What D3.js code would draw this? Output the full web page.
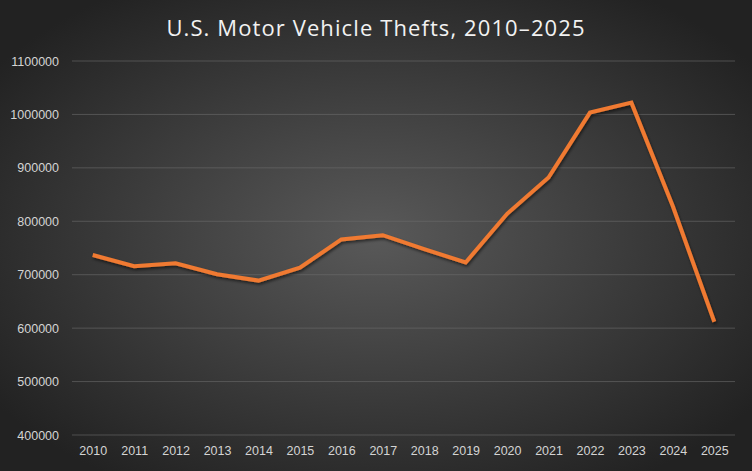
<!DOCTYPE html>
<html lang="en">
<head>
    <meta charset="UTF-8">
    <title>U.S. Motor Vehicle Thefts</title>
    <script src="https://cdn.jsdelivr.net/npm/d3@7"></script>
    <style>
        html, body { margin: 0; padding: 0; background: #2a2a2a; }
        svg { display: block; }
        .tick text { font-family: "Liberation Sans", Arial, sans-serif; font-size: 12.5px; fill: #d4d4d4; }
        .title { font-family: "Open Sans", "Noto Sans", sans-serif; font-size: 22px; fill: #f2f2f2; letter-spacing: 1.1px; }
    </style>
</head>
<body>
    <svg id="chart"></svg>
    <script>
        // values
        const years = ["2010", "2011", "2012", "2013", "2014", "2015", "2016", "2017",
                       "2018", "2019", "2020", "2021", "2022", "2023", "2024", "2025"];
        const thefts = [737000, 716000, 721500, 701000, 689000, 713000, 766000, 774000,
                        748000, 723000, 814000, 882000, 1003500, 1022000, 828000, 612000];
        const yTicks = [400000, 500000, 600000, 700000, 800000, 900000, 1000000, 1100000];

        const W = 752, H = 471;
        const margin = {top: 61, right: 17, bottom: 36, left: 72};
        const width = W - margin.left - margin.right,
              height = H - margin.top - margin.bottom;

        const svg = d3.select("#chart").attr("width", W).attr("height", H);

        const defs = svg.append("defs");
        const grad = defs.append("radialGradient")
            .attr("id", "bg")
            .attr("cx", "50%").attr("cy", "50%").attr("r", "62%");
        grad.append("stop").attr("offset", "0%").attr("stop-color", "#595959");
        grad.append("stop").attr("offset", "100%").attr("stop-color", "#222222");

        const shadow = defs.append("filter").attr("id", "shadow")
            .attr("x", "-10%").attr("y", "-10%").attr("width", "120%").attr("height", "130%");
        shadow.append("feDropShadow")
            .attr("dx", 1).attr("dy", 2).attr("stdDeviation", 1.5)
            .attr("flood-color", "#000").attr("flood-opacity", 0.55);

        svg.append("rect").attr("width", W).attr("height", H).attr("fill", "url(#bg)");

        svg.append("text")
           .attr("class", "title")
           .attr("x", W / 2)
           .attr("y", 36)
           .attr("text-anchor", "middle")
           .text("U.S. Motor Vehicle Thefts, 2010\u20132025");

        const g = svg.append("g").attr("transform", `translate(${margin.left},${margin.top})`);

        const x = d3.scalePoint().domain(years).range([0, width]).padding(0.5);
        const y = d3.scaleLinear().domain([400000, 1100000]).range([height, 0]);

        // gridlines
        g.append("g")
         .selectAll("line")
         .data(yTicks)
         .join("line")
         .attr("x1", 0).attr("x2", width)
         .attr("y1", d => y(d)).attr("y2", d => y(d))
         .attr("stroke", "#6a6a6a").attr("stroke-opacity", 0.6).attr("stroke-width", 1);

        const yAxis = g.append("g")
         .call(d3.axisLeft(y).tickValues(yTicks).tickFormat(d3.format("d")).tickSize(0).tickPadding(13));
        yAxis.select(".domain").remove();

        const xAxis = g.append("g")
         .attr("transform", `translate(0,${height})`)
         .call(d3.axisBottom(x).tickSize(0).tickPadding(11));
        xAxis.select(".domain").remove();

        const line = d3.line()
            .x((d, i) => x(years[i]))
            .y(d => y(d));

        g.append("path")
         .datum(thefts)
         .attr("d", line)
         .attr("fill", "none")
         .attr("stroke", "#f07a30")
         .attr("stroke-width", 4)
         .attr("stroke-linejoin", "miter")
         .attr("filter", "url(#shadow)");
    </script>
</body>
</html>
